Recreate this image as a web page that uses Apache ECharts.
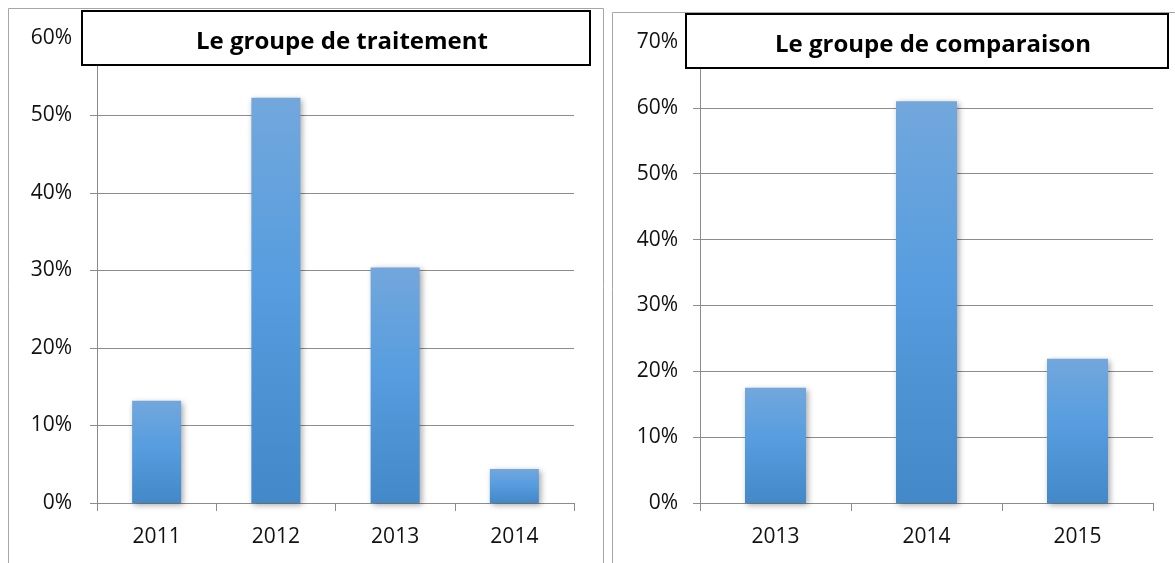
<!DOCTYPE html>
<html>
<head>
<meta charset="utf-8">
<script src="https://cdn.jsdelivr.net/npm/echarts@6/dist/echarts.min.js"></script>
<style>
  html, body { margin: 0; padding: 0; background: #fff; }
  #chart { width: 1175px; height: 563px; }
</style>
</head>
<body>
<div id="chart"></div>
<script>
  // groupe de traitement
  const treatYears = ['2011', '2012', '2013', '2014'];
  const treatValues = [0.132, 0.523, 0.304, 0.044];
  // groupe de comparaison
  const compYears = ['2013', '2014', '2015'];
  const compValues = [0.175, 0.61, 0.219];

  const treatTitle = 'Le groupe de traitement';
  const compTitle = 'Le groupe de comparaison';

  const FONT = '"Open Sans", "Liberation Sans", sans-serif';

  const barColor = new echarts.graphic.LinearGradient(0, 0, 0, 1, [
    { offset: 0, color: '#72a7dc' },
    { offset: 0.45, color: '#579ddf' },
    { offset: 1, color: '#4388c8' },
  ]);

  function yAxisCfg(gridIndex, max, margin) {
    return {
      type: 'value',
      gridIndex: gridIndex,
      min: 0,
      max: max,
      interval: 0.1,
      axisLine: { show: true, lineStyle: { color: '#8c8c8c', width: 1 } },
      axisTick: { show: true, length: 7, lineStyle: { color: '#8c8c8c' } },
      splitLine: { lineStyle: { color: '#8c8c8c', width: 1 } },
      axisLabel: {
        margin: margin,
        color: '#111',
        fontSize: 21,
        fontFamily: FONT,
        formatter: function (v) { return Math.round(v * 100) + '%'; },
      },
    };
  }

  function xAxisCfg(gridIndex, data) {
    return {
      type: 'category',
      gridIndex: gridIndex,
      data: data,
      axisLine: { lineStyle: { color: '#8c8c8c', width: 1 } },
      axisTick: { show: true, length: 8, lineStyle: { color: '#8c8c8c' } },
      axisLabel: { margin: 24, color: '#111', fontSize: 21, fontFamily: FONT },
    };
  }

  function barSeries(idx, data, width) {
    return {
      type: 'bar',
      xAxisIndex: idx,
      yAxisIndex: idx,
      data: data,
      barWidth: width,
      itemStyle: {
        color: barColor,
        shadowColor: 'rgba(0,0,0,0.35)',
        shadowBlur: 6,
        shadowOffsetX: 2,
        shadowOffsetY: 2,
      },
    };
  }

  const myChart = echarts.init(document.getElementById('chart'));

  const option = {
    animation: false,
    backgroundColor: '#fff',
    title: [
      {
        text: treatTitle,
        left: 337, top: 37, textAlign: 'center', textVerticalAlign: 'middle',
        textStyle: { fontFamily: FONT, fontWeight: 'bold', fontSize: 24, color: '#000' },
      },
      {
        text: compTitle,
        left: 928, top: 40, textAlign: 'center', textVerticalAlign: 'middle',
        textStyle: { fontFamily: FONT, fontWeight: 'bold', fontSize: 24, color: '#000' },
      },
    ],
    grid: [
      { left: 97, top: 38, right: 601, bottom: 60 },
      { left: 700, top: 42, right: 22, bottom: 60 },
    ],
    xAxis: [xAxisCfg(0, treatYears), xAxisCfg(1, compYears)],
    yAxis: [yAxisCfg(0, 0.6, 25), yAxisCfg(1, 0.7, 22)],
    series: [barSeries(0, treatValues, 49), barSeries(1, compValues, 61)],
    graphic: [
      // panel borders
      { type: 'rect', z: -1, shape: { x: 8.5, y: 8.5, width: 595, height: 570 },
        style: { fill: 'none', stroke: '#a6a6a6', lineWidth: 1 } },
      { type: 'rect', z: -1, shape: { x: 612.5, y: 12.5, width: 580, height: 570 },
        style: { fill: 'none', stroke: '#a6a6a6', lineWidth: 1 } },
      // title boxes
      { type: 'rect', z: 5, shape: { x: 82, y: 11, width: 508, height: 54 },
        style: { fill: '#fff', stroke: '#000', lineWidth: 2 } },
      { type: 'rect', z: 5, shape: { x: 686, y: 14, width: 482, height: 54 },
        style: { fill: '#fff', stroke: '#000', lineWidth: 2 } },
    ],
  };

  myChart.setOption(option);
</script>
</body>
</html>
